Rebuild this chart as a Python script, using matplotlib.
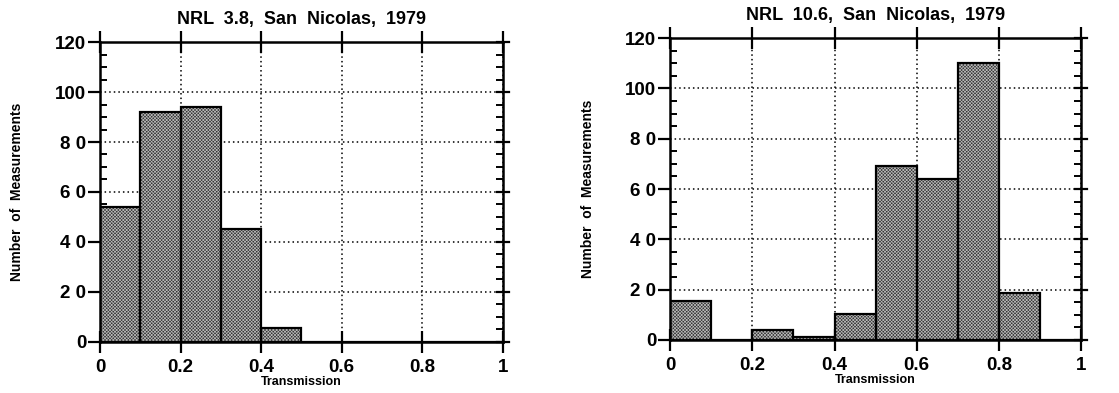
import matplotlib
matplotlib.use('Agg')
import matplotlib.pyplot as plt
from matplotlib.ticker import MultipleLocator
import numpy as np

# ---- data ----
bin_left = [0.0, 0.1, 0.2, 0.3, 0.4, 0.5, 0.6, 0.7, 0.8, 0.9]
counts_38 = [54, 92, 94, 45, 5.5, 0, 0, 0, 0, 0]
counts_106 = [15.5, 0, 4, 1, 10.5, 69, 64, 110, 18.5, 0]
titles = ['NRL  3.8,  San  Nicolas,  1979', 'NRL  10.6,  San  Nicolas,  1979']
xticks = [0, 0.2, 0.4, 0.6, 0.8, 1]
xticklabels = ['0', '0.2', '0.4', '0.6', '0.8', '1']
yticks = [0, 20, 40, 60, 80, 100, 120]
yticklabels = ['0', '2 0', '4 0', '6 0', '8 0', '100', '120']

FONT = 'Liberation Sans'
plt.rcParams['hatch.linewidth'] = 0.5

fig = plt.figure(figsize=(11.19, 3.93), dpi=100)
fig.patch.set_facecolor('white')
axes = [fig.add_axes([0.0894, 0.130, 0.360, 0.763]),
        fig.add_axes([0.599, 0.135, 0.367, 0.768])]

for ax, counts, title in zip(axes, [counts_38, counts_106], titles):
    ax.set_xlim(0, 1); ax.set_ylim(0, 120)
    # dotted-screen fill, then black outline on top
    ax.bar(bin_left, counts, width=0.1, align='edge', color='#333333',
           edgecolor='#b8b8b8', hatch='x' * 10, linewidth=0, zorder=2)
    ax.bar(bin_left, counts, width=0.1, align='edge', fill=False,
           edgecolor='black', linewidth=1.6, zorder=3)
    ax.grid(True, which='major', linestyle=(0, (1, 2)), color='black', lw=1.1, zorder=1)
    ax.set_axisbelow(True)
    for s in ax.spines.values():
        s.set_linewidth(1.8); s.set_zorder(4)
    ax.set_xticks(xticks)
    ax.set_xticklabels(xticklabels, fontsize=13.5, fontweight='bold', family=FONT)
    ax.set_yticks(yticks)
    ax.set_yticklabels(yticklabels, fontsize=13.5, fontweight='bold', family=FONT)
    ax.yaxis.set_minor_locator(MultipleLocator(5))
    ax.tick_params(axis='x', which='major', direction='inout', length=16, width=1.6,
                   top=True, bottom=True, pad=4)
    ax.tick_params(axis='y', which='major', direction='out', length=9, width=1.6,
                   left=True, right=False, pad=1)
    ax.tick_params(axis='y', which='minor', direction='in', length=5, width=1.4,
                   left=True, right=True)
    # right-hand major ticks cross the spine
    for y in yticks:
        ax.plot([0.985, 1.015], [y, y], color='black', lw=1.6, clip_on=False,
                transform=ax.get_yaxis_transform(), zorder=5)
    ax.set_title(title, fontsize=13, fontweight='bold', family=FONT, pad=13)
    ax.set_xlabel('Transmission', fontsize=9, fontweight='bold', family=FONT, labelpad=0)
    ax.set_ylabel('Number  of  Measurements', fontsize=10, fontweight='bold', family=FONT,
                  labelpad=22)

plt.savefig('out.png', dpi=100, facecolor='white')
plt.close()
